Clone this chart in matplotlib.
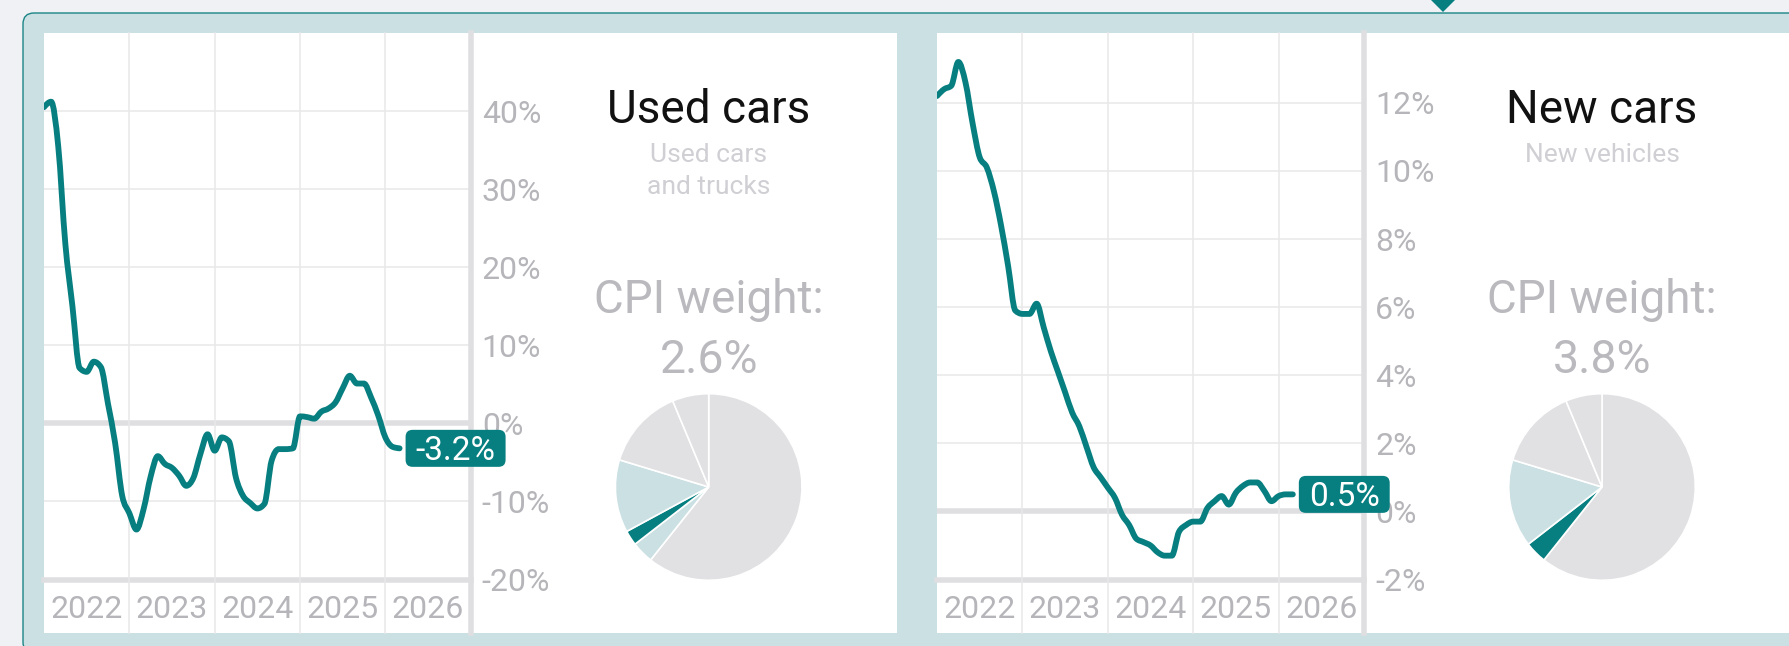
import numpy as np
import matplotlib.pyplot as plt
from matplotlib.path import Path
from matplotlib.patches import PathPatch, FancyBboxPatch, Rectangle, Polygon
from matplotlib.transforms import IdentityTransform

# monthly CPI year-over-year change, Jan 2022 .. Mar 2026
months = [f'{y}-{m:02d}' for y in range(2022, 2027) for m in range(1, 13)][:51]
used_yoy = [40.5, 41.2, 35.5, 23.0, 15.0, 7.1, 6.6, 7.9, 7.2, 2.5, -2.5, -9.3,
            -11.5, -13.6, -11.0, -6.8, -4.2, -5.2, -5.7, -6.7, -8.0, -7.0, -3.9, -1.4,
            -3.5, -1.8, -2.3, -7.0, -9.3, -10.2, -10.9, -10.3, -4.8, -3.3, -3.3, -3.2,
            0.9, 0.8, 0.6, 1.5, 1.9, 2.7, 4.5, 6.1, 5.1, 5.1, 3.3, 1.0,
            -1.8, -3.0, -3.2]
new_yoy = [12.2, 12.4, 12.5, 13.2, 12.6, 11.4, 10.4, 10.1, 9.4, 8.4, 7.2, 5.9,
           5.8, 5.8, 6.1, 5.4, 4.7, 4.1, 3.5, 2.9, 2.5, 1.9, 1.3, 1.0,
           0.7, 0.4, -0.1, -0.4, -0.8, -0.9, -1.0, -1.2, -1.3, -1.3, -0.6, -0.4,
           -0.3, -0.3, 0.1, 0.3, 0.45, 0.2, 0.55, 0.75, 0.85, 0.85, 0.6, 0.3,
           0.45, 0.5, 0.5]
years = ['2022', '2023', '2024', '2025', '2026']
used_ticks = [-20, -10, 0, 10, 20, 30, 40]
new_ticks = [-2, 0, 2, 4, 6, 8, 10, 12]

# CPI weight pies (share of basket, %)
used_pie = [60.7, 3.8, 2.6, 12.6, 14.0, 6.3]
new_pie = [60.7, 3.8, 15.2, 14.0, 6.3]

TEAL = '#077f80'
LIGHT = '#cbe0e3'
PGREY = '#e1e1e4'
GRID = '#e8e8ea'
AXGREY = '#dfdfe2'
LABEL = '#b5b5ba'

used_pie_cols = [PGREY, LIGHT, TEAL, LIGHT, PGREY, PGREY]
new_pie_cols = [PGREY, TEAL, LIGHT, PGREY, PGREY]

plt.rcParams['font.family'] = ['Roboto', 'DejaVu Sans']

W, H = 1790, 646
fig = plt.figure(figsize=(W / 100, H / 100), dpi=100, facecolor='#eff1f5')


def px_axes(l, t, w, h, **kw):
    return fig.add_axes([l / W, 1 - (t + h) / H, w / W, h / H], **kw)


def monotone_path(x, y):
    # monotone-x cubic curve, like d3.curveMonotoneX
    x = np.asarray(x, float)
    y = np.asarray(y, float)
    n = len(x)
    h = np.diff(x)
    s = np.diff(y) / h
    t = np.zeros(n)
    for i in range(1, n - 1):
        h0, h1, s0, s1 = h[i - 1], h[i], s[i - 1], s[i]
        p = (s0 * h1 + s1 * h0) / (h0 + h1)
        sg0 = -1 if s0 < 0 else 1
        sg1 = -1 if s1 < 0 else 1
        t[i] = (sg0 + sg1) * min(abs(s0), abs(s1), 0.5 * abs(p))
    t[0] = (3 * s[0] - t[1]) / 2
    t[-1] = (3 * s[-1] - t[-2]) / 2
    verts = [(x[0], y[0])]
    codes = [Path.MOVETO]
    for i in range(n - 1):
        dx = h[i] / 3
        verts += [(x[i] + dx, y[i] + dx * t[i]),
                  (x[i + 1] - dx, y[i + 1] - dx * t[i + 1]),
                  (x[i + 1], y[i + 1])]
        codes += [Path.CURVE4] * 3
    return Path(verts, codes)


# background: container + cards
bg = px_axes(0, 0, W, H)
bg.set_xlim(0, W)
bg.set_ylim(H, 0)
bg.axis('off')
bg.set_zorder(-10)
bg.add_patch(FancyBboxPatch((23, 13), 1800, 640, boxstyle='round,pad=0,rounding_size=11',
                            fc=LIGHT, ec='#1b8586', lw=1.0))
bg.add_patch(Rectangle((44, 33), 853, 600, fc='white', ec='none'))
bg.add_patch(Rectangle((937, 33), 870, 600, fc='white', ec='none'))
bg.add_patch(Polygon([(1428, -3), (1458, -3), (1443, 12)], closed=True, fc=TEAL, ec='none'))

xs = [int(m[:4]) + (int(m[5:]) - 1) / 12 for m in months]
renderer = fig.canvas.get_renderer()


def panel(left, right, ylim, ticks, vals, badge, title, subtitle, weight, pie_vals, pie_cols):
    top, bottom, card_bottom = 33, 579.5, 633
    ax = px_axes(left, top, right - left, bottom - top)
    ax.set_xlim(2022, 2027)
    ax.set_ylim(*ylim)
    ax.set_facecolor('none')
    for s in ax.spines.values():
        s.set_visible(False)
    below = -(card_bottom - bottom) / (bottom - top)

    for v in ticks:
        if v == 0:
            ax.axhline(0, color=AXGREY, lw=4, zorder=1)
        elif v > ylim[0]:
            ax.axhline(v, color=GRID, lw=1.1, zorder=1)
    ax.axhline(ylim[0], color=AXGREY, lw=4, zorder=1, clip_on=False)
    for yr in [2023, 2024, 2025, 2026]:
        ax.axvline(yr, ymin=below, ymax=1, color=GRID, lw=1.1, zorder=1, clip_on=False)
    ax.axvline(2027, ymin=below, ymax=1, color=AXGREY, lw=4, zorder=1, clip_on=False)

    ax.yaxis.tick_right()
    ax.set_yticks(ticks, labels=[f'{v}%' for v in ticks])
    ax.tick_params(axis='y', length=0, pad=8, labelsize=23, labelcolor=LABEL)
    ax.set_xticks([2022.5, 2023.5, 2024.5, 2025.5, 2026.5], labels=years)
    ax.tick_params(axis='x', length=0, pad=11, labelsize=23, labelcolor=LABEL)

    ax.add_patch(PathPatch(monotone_path(xs, vals), fc='none', ec=TEAL, lw=4.2,
                           capstyle='round', joinstyle='round', zorder=4))

    # end-value badge
    ex, ey = ax.transData.transform((xs[-1], vals[-1]))
    fs = 24
    t = fig.text(0, 0, badge, fontsize=fs, color='white', ha='center', va='baseline',
                 transform=IdentityTransform(), zorder=6)
    tw = t.get_window_extent(renderer).width
    bw, bh = tw + 20, 37
    fig.add_artist(FancyBboxPatch((ex + 6, ey - bh / 2), bw, bh,
                                  boxstyle='round,pad=0,rounding_size=7',
                                  fc=TEAL, ec='none', transform=IdentityTransform(), zorder=5))
    t.set_position((ex + 6 + bw / 2, ey - 0.711 * fs * 100 / 72 / 2))

    # right-hand info column
    cx = right + 238
    fig.text(cx / W, 1 - 123 / H, title, fontsize=33, color='#111111', ha='center', va='baseline')
    for i, line in enumerate(subtitle):
        fig.text(cx / W, 1 - (162 + 32 * i) / H, line, fontsize=19, color='#cfcfd4',
                 ha='center', va='baseline')
    fig.text(cx / W, 1 - 313 / H, 'CPI weight:', fontsize=33, color='#b9b9be',
             ha='center', va='baseline')
    fig.text(cx / W, 1 - 373 / H, weight, fontsize=33.5, color='#b9b9be',
             ha='center', va='baseline')

    pax = px_axes(cx - 95, 487 - 95, 190, 190)
    pax.pie(pie_vals, colors=pie_cols, startangle=90, counterclock=False, radius=93.3 / 95,
            wedgeprops=dict(edgecolor='white', linewidth=1.2))
    pax.set_xlim(-1, 1)
    pax.set_ylim(-1, 1)
    pax.set_aspect('equal')
    pax.axis('off')


panel(44, 470.7, (-20, 50), used_ticks, used_yoy, '-3.2%', 'Used cars',
      ['Used cars', 'and trucks'], '2.6%', used_pie, used_pie_cols)
panel(937, 1364, (-2, 14.05), new_ticks, new_yoy, '0.5%', 'New cars',
      ['New vehicles'], '3.8%', new_pie, new_pie_cols)

fig.savefig('out.png', dpi=100, facecolor=fig.get_facecolor())
